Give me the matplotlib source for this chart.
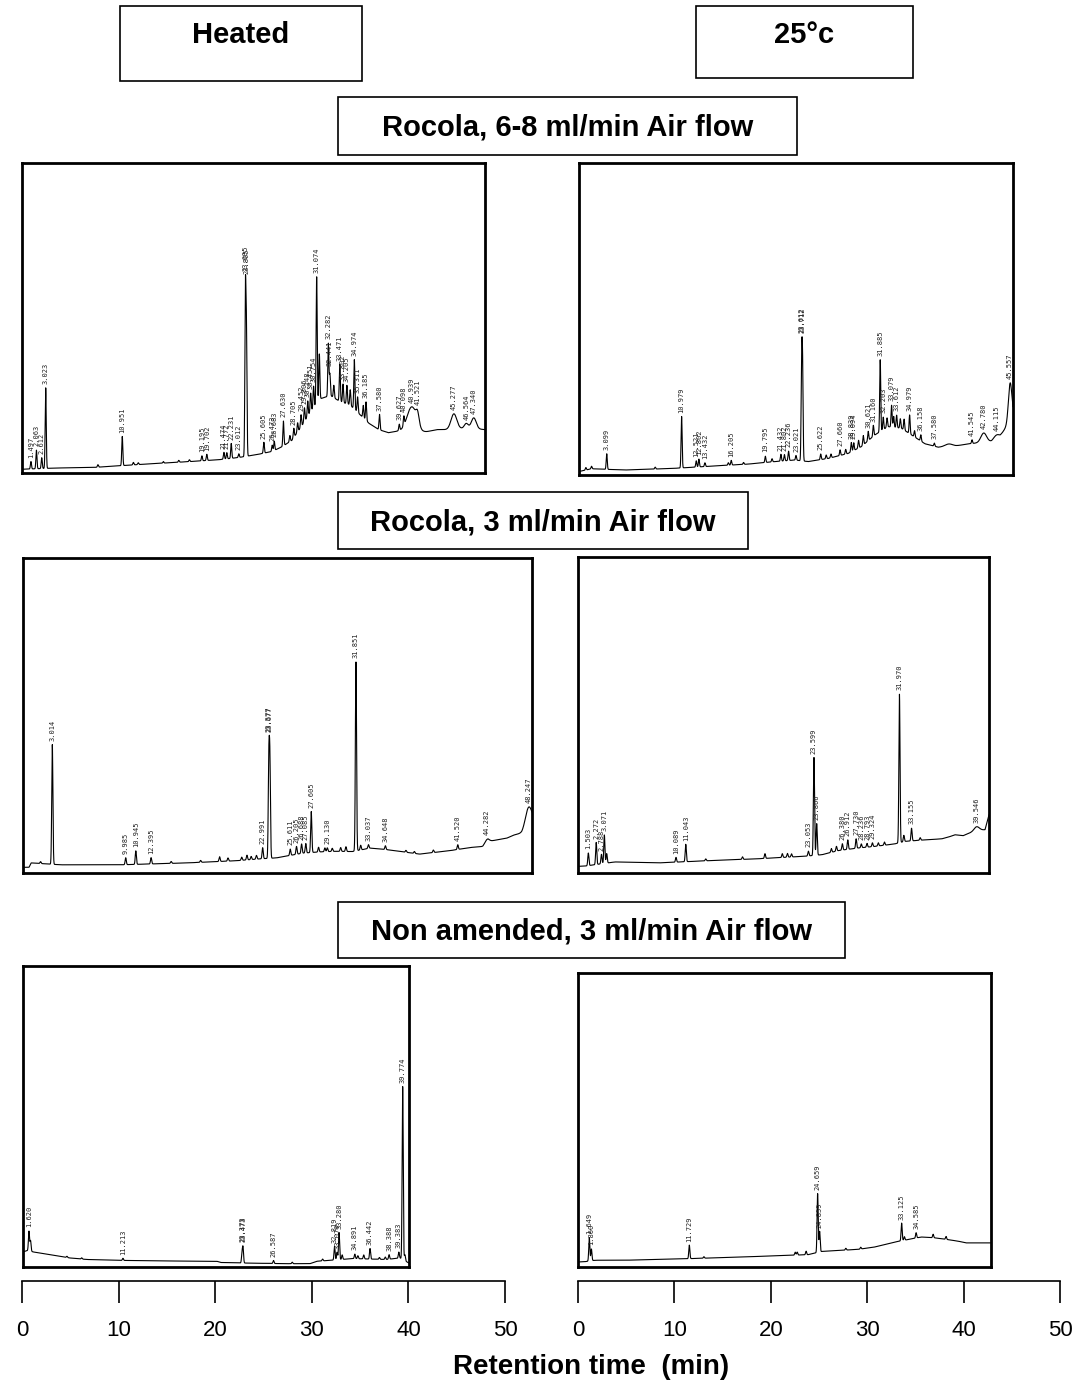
import numpy as np
import matplotlib
matplotlib.use('Agg')
import matplotlib.pyplot as plt
from matplotlib.patches import Rectangle

W, H = 1078, 1384
fig = plt.figure(figsize=(W / 100, H / 100), dpi=100)
plt.rcParams['font.family'] = ['Liberation Sans', 'DejaVu Sans']

SHARP_W = 0.055  # sigma of a sharp GC peak, min

# ---- Rocola, 6-8 ml/min, heated ----
r68h_base_t = [0.57, 4, 8, 13, 18, 21, 23, 25, 26.5, 27.5, 28.5, 29.5, 30.5, 31.5, 32.5, 33.5, 34.5, 35.5, 36.5, 37.5, 38.5, 39.5, 40.5, 42, 43.5, 45, 46.5, 48.5]
r68h_base_y = [0.012, 0.016, 0.018, 0.028, 0.037, 0.043, 0.05, 0.06, 0.07, 0.085, 0.105, 0.15, 0.2, 0.24, 0.25, 0.23, 0.22, 0.19, 0.16, 0.14, 0.13, 0.135, 0.135, 0.13, 0.14, 0.14, 0.145, 0.14]
r68h_peak_t = [1.497, 2.063, 2.612, 3.023, 8.43, 10.951, 12.1, 12.6, 15.2, 16.8, 17.9, 19.195, 19.702, 21.474, 21.772, 22.231, 23.012, 23.695, 23.805, 25.605, 26.473, 26.683, 27.630, 28.3, 28.705, 29.1, 29.452, 29.806, 30.148, 30.451, 30.754, 31.074, 31.35, 32.282, 32.441, 32.85, 33.471, 33.802, 34.205, 34.55, 34.974, 35.311, 35.9, 36.185, 37.580, 39.627, 40.098]
r68h_peak_h = [0.024, 0.06, 0.035, 0.26, 0.008, 0.094, 0.008, 0.006, 0.005, 0.006, 0.006, 0.016, 0.02, 0.022, 0.02, 0.048, 0.012, 0.52, 0.38, 0.035, 0.02, 0.03, 0.08, 0.02, 0.03, 0.03, 0.04, 0.045, 0.05, 0.06, 0.07, 0.41, 0.15, 0.17, 0.07, 0.04, 0.12, 0.06, 0.06, 0.05, 0.16, 0.05, 0.04, 0.06, 0.05, 0.02, 0.03]
r68h_hump_t = [40.939, 41.521, 45.277, 46.564, 47.340]
r68h_hump_h = [0.08, 0.03, 0.05, 0.015, 0.035]
r68h_hump_w = [0.5, 0.15, 0.3, 0.2, 0.25]
r68h_labels = [1.497, 2.063, 2.612, 3.023, 10.951, 19.195, 19.702, 21.474, 21.772, 22.231, 23.012, 23.695, 23.805, 25.605, 26.473, 26.683, 27.630, 28.705, 29.452, 29.806, 30.148, 30.451, 30.754, 31.074, 32.282, 32.441, 33.471, 33.802, 34.205, 34.974, 35.311, 36.185, 37.580, 39.627, 40.098, 40.939, 41.521, 45.277, 46.564, 47.340]

# ---- Rocola, 6-8 ml/min, 25 C ----
r68c_base_t = [0.18, 1.5, 5.0, 10.0, 14.5, 18.0, 20.8, 22.9, 24.3, 26.4, 28.5, 29.9, 31.3, 32.7, 34.1, 35.2, 36.6, 38.0, 39.8, 41.2, 43.6, 44.5, 45.86]
r68c_base_y = [0.011, 0.02, 0.016, 0.021, 0.029, 0.035, 0.043, 0.048, 0.043, 0.053, 0.069, 0.091, 0.128, 0.155, 0.15, 0.128, 0.10, 0.089, 0.093, 0.10, 0.107, 0.123, 0.19]
r68c_peak_t = [0.9, 1.5, 3.099, 8.2, 10.979, 12.521, 12.802, 13.432, 15.9, 16.205, 17.5, 19.795, 20.5, 21.432, 21.802, 22.236, 23.021, 23.612, 23.712, 25.622, 26.2, 26.7, 27.660, 28.25, 28.839, 29.094, 29.6, 30.1, 30.621, 31.160, 31.885, 32.203, 32.6, 33.079, 33.3, 33.612, 34.0, 34.4, 34.979, 35.5, 36.158, 37.580, 41.545]
r68c_peak_h = [0.008, 0.008, 0.05, 0.006, 0.165, 0.02, 0.025, 0.012, 0.008, 0.015, 0.006, 0.02, 0.01, 0.022, 0.02, 0.03, 0.015, 0.31, 0.29, 0.018, 0.012, 0.012, 0.018, 0.015, 0.03, 0.025, 0.025, 0.03, 0.03, 0.035, 0.23, 0.04, 0.03, 0.07, 0.035, 0.04, 0.03, 0.035, 0.06, 0.02, 0.02, 0.01, 0.012]
r68c_hump_t = [39.1, 42.780, 44.115, 45.557]
r68c_hump_h = [0.008, 0.03, 0.012, 0.12]
r68c_hump_w = [0.4, 0.3, 0.3, 0.18]
r68c_labels = [3.099, 10.979, 12.521, 12.802, 13.432, 16.205, 19.795, 21.432, 21.802, 22.236, 23.021, 23.612, 23.712, 25.622, 27.660, 28.839, 29.094, 30.621, 31.160, 31.885, 32.203, 33.079, 33.612, 34.979, 36.158, 37.580, 41.545, 42.780, 44.115, 45.557]

# ---- Rocola, 3 ml/min, heated ----
r3h_base_t = [0.23, 0.8, 1.0, 3.8, 9.45, 15.8, 20.5, 22.8, 24.3, 26.8, 28.4, 30.0, 31.5, 33.2, 34.8, 37.9, 40.8, 42.7, 43.9, 44.4, 46.2, 46.8, 47.6, 48.57]
r3h_base_y = [0.018, 0.018, 0.032, 0.026, 0.026, 0.032, 0.039, 0.045, 0.048, 0.063, 0.067, 0.069, 0.068, 0.079, 0.074, 0.06, 0.071, 0.081, 0.084, 0.1, 0.111, 0.12, 0.127, 0.16]
r3h_peak_t = [1.9, 3.014, 9.985, 10.945, 12.395, 14.3, 17.1, 18.9, 19.7, 21.0, 21.5, 21.9, 22.4, 22.991, 23.577, 23.677, 25.611, 26.205, 26.688, 27.085, 27.605, 28.3, 28.9, 29.130, 29.6, 30.4, 30.9, 31.851, 32.3, 33.037, 34.648, 36.6, 37.4, 39.2, 41.520]
r3h_peak_h = [0.006, 0.38, 0.022, 0.043, 0.02, 0.006, 0.006, 0.015, 0.01, 0.01, 0.015, 0.01, 0.012, 0.035, 0.3, 0.29, 0.02, 0.025, 0.03, 0.03, 0.13, 0.015, 0.012, 0.012, 0.01, 0.012, 0.015, 0.6, 0.015, 0.012, 0.012, 0.006, 0.006, 0.008, 0.015]
r3h_hump_t = [44.282, 48.247]
r3h_hump_h = [0.01, 0.06]
r3h_hump_w = [0.2, 0.3]
r3h_labels = [3.014, 9.985, 10.945, 12.395, 22.991, 23.577, 23.677, 25.611, 26.205, 26.688, 27.085, 27.605, 29.130, 31.851, 33.037, 34.648, 41.520, 44.282, 48.247]

# ---- Rocola, 3 ml/min, 25 C ----
r3c_base_t = [0.49, 1.2, 4.1, 8.4, 13.3, 18.1, 22.7, 24.4, 26.0, 27.9, 29.5, 31.5, 32.5, 34.5, 36.1, 36.8, 37.4, 38.2, 39.4, 40.35, 40.74]
r3c_base_y = [0.021, 0.022, 0.035, 0.032, 0.039, 0.045, 0.053, 0.058, 0.071, 0.079, 0.084, 0.092, 0.1, 0.105, 0.108, 0.114, 0.121, 0.118, 0.134, 0.137, 0.184]
r3c_peak_t = [1.503, 2.272, 2.788, 3.071, 3.3, 10.089, 11.043, 13.0, 16.6, 18.8, 20.5, 21.0, 21.4, 23.053, 23.599, 23.866, 25.3, 25.8, 26.380, 26.912, 27.730, 28.236, 28.793, 29.324, 29.9, 30.5, 31.970, 32.4, 33.155, 34.0]
r3c_peak_h = [0.04, 0.07, 0.03, 0.09, 0.03, 0.015, 0.055, 0.006, 0.008, 0.015, 0.012, 0.012, 0.01, 0.015, 0.31, 0.1, 0.012, 0.015, 0.02, 0.03, 0.03, 0.012, 0.012, 0.012, 0.01, 0.01, 0.47, 0.02, 0.04, 0.008]
r3c_hump_t = [39.546]
r3c_hump_h = [0.012]
r3c_hump_w = [0.25]
r3c_labels = [1.503, 2.272, 2.788, 3.071, 10.089, 11.043, 23.053, 23.599, 23.866, 26.380, 26.912, 27.730, 28.236, 28.793, 29.324, 31.970, 33.155, 39.546]

# ---- Non amended, 3 ml/min, heated ----
nah_base_t = [1.01, 1.5, 2.06, 4.1, 5.8, 7.5, 10.9, 16.0, 20.8, 21.2, 23.9, 27.9, 30.3, 31.0, 32.3, 34.7, 38.1, 39.5, 40.42]
nah_base_y = [0.05, 0.055, 0.05, 0.039, 0.03, 0.025, 0.022, 0.02, 0.019, 0.015, 0.013, 0.011, 0.011, 0.019, 0.022, 0.028, 0.025, 0.03, 0.013]
nah_peak_t = [1.620, 1.780, 5.5, 7.0, 11.213, 23.373, 23.473, 26.587, 28.5, 31.6, 32.819, 33.074, 33.280, 33.6, 34.891, 35.2, 35.8, 36.442, 37.4, 38.0, 38.388, 39.383, 39.774, 40.0]
nah_peak_h = [0.065, 0.035, 0.004, 0.004, 0.007, 0.03, 0.05, 0.01, 0.005, 0.006, 0.045, 0.025, 0.09, 0.015, 0.015, 0.01, 0.013, 0.035, 0.006, 0.008, 0.015, 0.02, 0.575, 0.02]
nah_hump_t = []
nah_hump_h = []
nah_hump_w = []
nah_labels = [1.620, 11.213, 23.373, 23.473, 26.587, 32.819, 33.074, 33.280, 34.891, 36.442, 38.388, 39.383, 39.774]

# ---- Non amended, 3 ml/min, 25 C ----
nac_base_t = [0.51, 1.2, 2.2, 5.25, 11.3, 17.0, 23.7, 25.1, 28.75, 30.4, 32.45, 35.1, 36.5, 37.8, 38.8, 39.6, 42.13]
nac_base_y = [0.017, 0.018, 0.023, 0.023, 0.028, 0.034, 0.042, 0.053, 0.06, 0.068, 0.085, 0.102, 0.099, 0.093, 0.088, 0.082, 0.082]
nac_peak_t = [1.649, 1.860, 11.729, 13.2, 22.4, 22.6, 23.5, 24.659, 24.859, 27.5, 29.0, 33.125, 33.4, 34.585, 36.3, 37.6]
nac_peak_h = [0.08, 0.04, 0.046, 0.005, 0.01, 0.01, 0.012, 0.2, 0.07, 0.006, 0.006, 0.06, 0.012, 0.018, 0.012, 0.01]
nac_hump_t = []
nac_hump_h = []
nac_hump_w = []
nac_labels = [1.649, 1.860, 11.729, 24.659, 24.859, 33.125, 34.585]

tick_vals = [0, 10, 20, 30, 40, 50]


def px_rect(x0, y0, x1, y1):
    return [x0 / W, 1 - y1 / H, (x1 - x0) / W, (y1 - y0) / H]


def chromatogram(box, xlim, base_t, base_y, peak_t, peak_h, hump_t, hump_h, hump_w, labels):
    ax = fig.add_axes(px_rect(*box))
    t = np.linspace(xlim[0], xlim[1], 9000)
    y = np.interp(t, base_t, base_y)
    for tp, hp in zip(peak_t, peak_h):
        y += hp * np.exp(-0.5 * ((t - tp) / SHARP_W) ** 2)
    for tp, hp, wp in zip(hump_t, hump_h, hump_w):
        y += hp * np.exp(-0.5 * ((t - tp) / wp) ** 2)
    ax.plot(t, y, color='black', lw=0.8)
    for tl in labels:
        top = y[np.abs(t - tl) < 0.08].max()
        ax.text(tl, top + 0.012, f'{tl:.3f}', rotation=90, ha='center', va='bottom',
                fontsize=5, family='DejaVu Sans Mono', color='#222222')
    ax.set_xlim(xlim)
    ax.set_ylim(0, 1)
    ax.set_xticks([])
    ax.set_yticks([])
    for s in ax.spines.values():
        s.set_linewidth(2)
    return ax


chromatogram((22, 163, 485, 473), (0.57, 48.5), r68h_base_t, r68h_base_y, r68h_peak_t, r68h_peak_h,
             r68h_hump_t, r68h_hump_h, r68h_hump_w, r68h_labels)
chromatogram((579, 163, 1013, 475), (0.18, 45.86), r68c_base_t, r68c_base_y, r68c_peak_t, r68c_peak_h,
             r68c_hump_t, r68c_hump_h, r68c_hump_w, r68c_labels)
chromatogram((23, 558, 532, 873), (0.23, 48.57), r3h_base_t, r3h_base_y, r3h_peak_t, r3h_peak_h,
             r3h_hump_t, r3h_hump_h, r3h_hump_w, r3h_labels)
chromatogram((578, 557, 989, 873), (0.49, 40.74), r3c_base_t, r3c_base_y, r3c_peak_t, r3c_peak_h,
             r3c_hump_t, r3c_hump_h, r3c_hump_w, r3c_labels)
chromatogram((23, 966, 409, 1267), (1.01, 40.42), nah_base_t, nah_base_y, nah_peak_t, nah_peak_h,
             nah_hump_t, nah_hump_h, nah_hump_w, nah_labels)
chromatogram((578, 973, 991, 1267), (0.51, 42.13), nac_base_t, nac_base_y, nac_peak_t, nac_peak_h,
             nac_hump_t, nac_hump_h, nac_hump_w, nac_labels)


# boxed headings; ty is the text centre in pixels from the top
def heading(text, x0, y0, x1, y1, ty):
    fig.add_artist(Rectangle((x0 / W, 1 - y1 / H), (x1 - x0) / W, (y1 - y0) / H,
                             transform=fig.transFigure, fill=False, ec='black', lw=1.2))
    fig.text((x0 + x1) / 2 / W, 1 - ty / H, text, ha='center', va='center',
             fontsize=21, fontweight='bold')


heading('Heated', 120, 6, 362, 81, 35)
heading('25°c', 696, 6, 913, 78, 35)
heading('Rocola, 6-8 ml/min Air flow', 338, 97, 797, 155, 127)
heading('Rocola, 3 ml/min Air flow', 338, 492, 748, 549, 522)
heading('Non amended, 3 ml/min Air flow', 338, 902, 845, 958, 931)

# retention time scales
for x0, x1 in [(22, 505), (578, 1060)]:
    ax = fig.add_axes([x0 / W, 1 - 1281 / H, (x1 - x0) / W, 0.0005])
    ax.patch.set_visible(False)
    for side in ['top', 'left', 'right']:
        ax.spines[side].set_visible(False)
    ax.spines['bottom'].set_linewidth(1.2)
    ax.set_xlim(0, 50)
    ax.set_xticks(tick_vals)
    ax.set_yticks([])
    ax.tick_params(axis='x', direction='out', length=16, width=1.2, labelsize=16, pad=12)

fig.text(591 / W, 1 - 1367 / H, 'Retention time  (min)', ha='center', va='center',
         fontsize=20, fontweight='bold')

fig.savefig('out.png', dpi=100)
